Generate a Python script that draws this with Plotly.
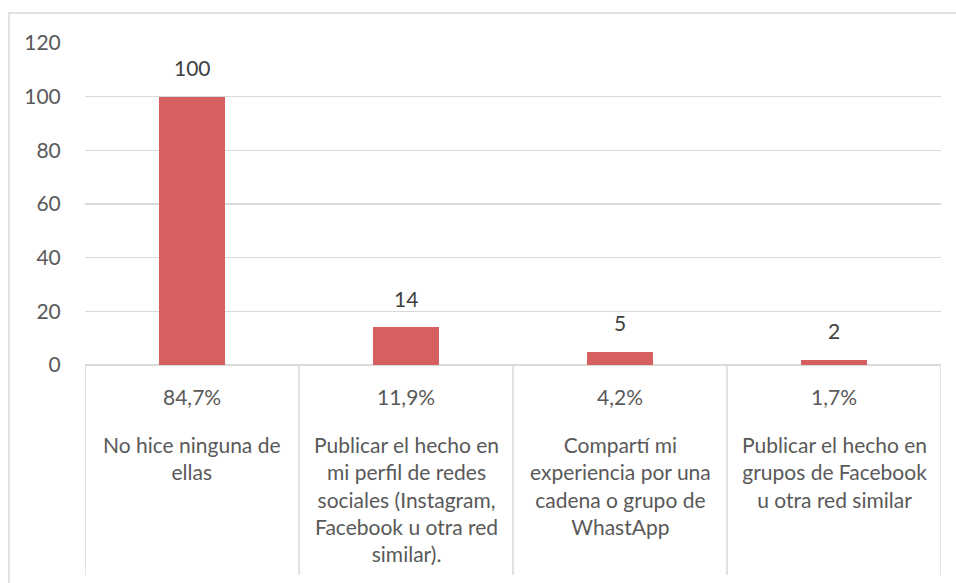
import plotly.graph_objects as go

categories = [
    "No hice ninguna de<br>ellas",
    "Publicar el hecho en<br>mi perfil de redes<br>sociales (Instagram,<br>Facebook u otra red<br>similar).",
    "Compartí mi<br>experiencia por una<br>cadena o grupo de<br>WhastApp",
    "Publicar el hecho en<br>grupos de Facebook<br>u otra red similar",
]
percent_labels = ["84,7%", "11,9%", "4,2%", "1,7%"]
values = [100, 14, 5, 2]
y_ticks = [0, 20, 40, 60, 80, 100, 120]

W, H = 956, 583
L, R, T, B = 85, 15, 43, 218
plot_h = H - T - B

FONT = "Lato"
FS = 21
TXT = "#595959"
GRID = "#D9D9D9"

def py(px):
    # pixel y (from top) -> paper y
    return (H - B - px) / plot_h

x_idx = list(range(len(values)))

fig = go.Figure()
fig.add_trace(go.Bar(
    x=x_idx, y=values, width=0.31,
    marker=dict(color="#D65F5F", line=dict(width=0)),
    hoverinfo="skip",
))

annotations = []
for i, v in enumerate(values):
    annotations.append(dict(
        x=i, y=v, xref="x", yref="y", text=str(v), showarrow=False,
        yanchor="middle", yshift=29,
        font=dict(family=FONT, size=FS, color="#404040"),
    ))
    annotations.append(dict(
        x=i, y=py(396), xref="x", yref="paper", text=percent_labels[i],
        showarrow=False, yanchor="middle",
        font=dict(family=FONT, size=FS, color=TXT),
    ))
    annotations.append(dict(
        x=i, y=py(430), xref="x", yref="paper", text=categories[i],
        showarrow=False, yanchor="top", align="center",
        font=dict(family=FONT, size=FS, color=TXT),
    ))

shapes = []
for b in [-0.5, 0.5, 1.5, 2.5, 3.5]:
    shapes.append(dict(
        type="line", xref="x", yref="paper", x0=b, x1=b, y0=0, y1=py(575),
        line=dict(color=GRID, width=1.5), layer="below",
    ))
# outer chart border
shapes.append(dict(
    type="rect", xref="paper", yref="paper",
    x0=(9 - L) / (W - L - R), x1=1.2, y0=py(13), y1=py(600),
    line=dict(color=GRID, width=1.5), fillcolor="rgba(0,0,0,0)", layer="below",
))

fig.update_layout(
    width=W, height=H,
    margin=dict(l=L, r=R, t=T, b=B),
    paper_bgcolor="white", plot_bgcolor="white",
    showlegend=False,
    annotations=annotations,
    shapes=shapes,
    bargap=0,
)
fig.update_xaxes(
    range=[-0.5, 3.5], showticklabels=False, showgrid=False,
    zeroline=False, showline=False, ticks="",
)
fig.update_yaxes(
    range=[0, 120], tickvals=y_ticks, ticktext=[str(t) for t in y_ticks],
    showgrid=True, gridcolor=GRID, gridwidth=1.5,
    zeroline=True, zerolinecolor=GRID, zerolinewidth=1.5,
    showline=False, ticks="outside", ticklen=19, tickcolor="rgba(0,0,0,0)",
    tickfont=dict(family=FONT, size=FS, color=TXT),
)

fig.write_html(
    "out.html",
    config={"displayModeBar": False, "staticPlot": True},
    post_script="document.body.style.margin='0';document.body.style.overflow='hidden';",
)
